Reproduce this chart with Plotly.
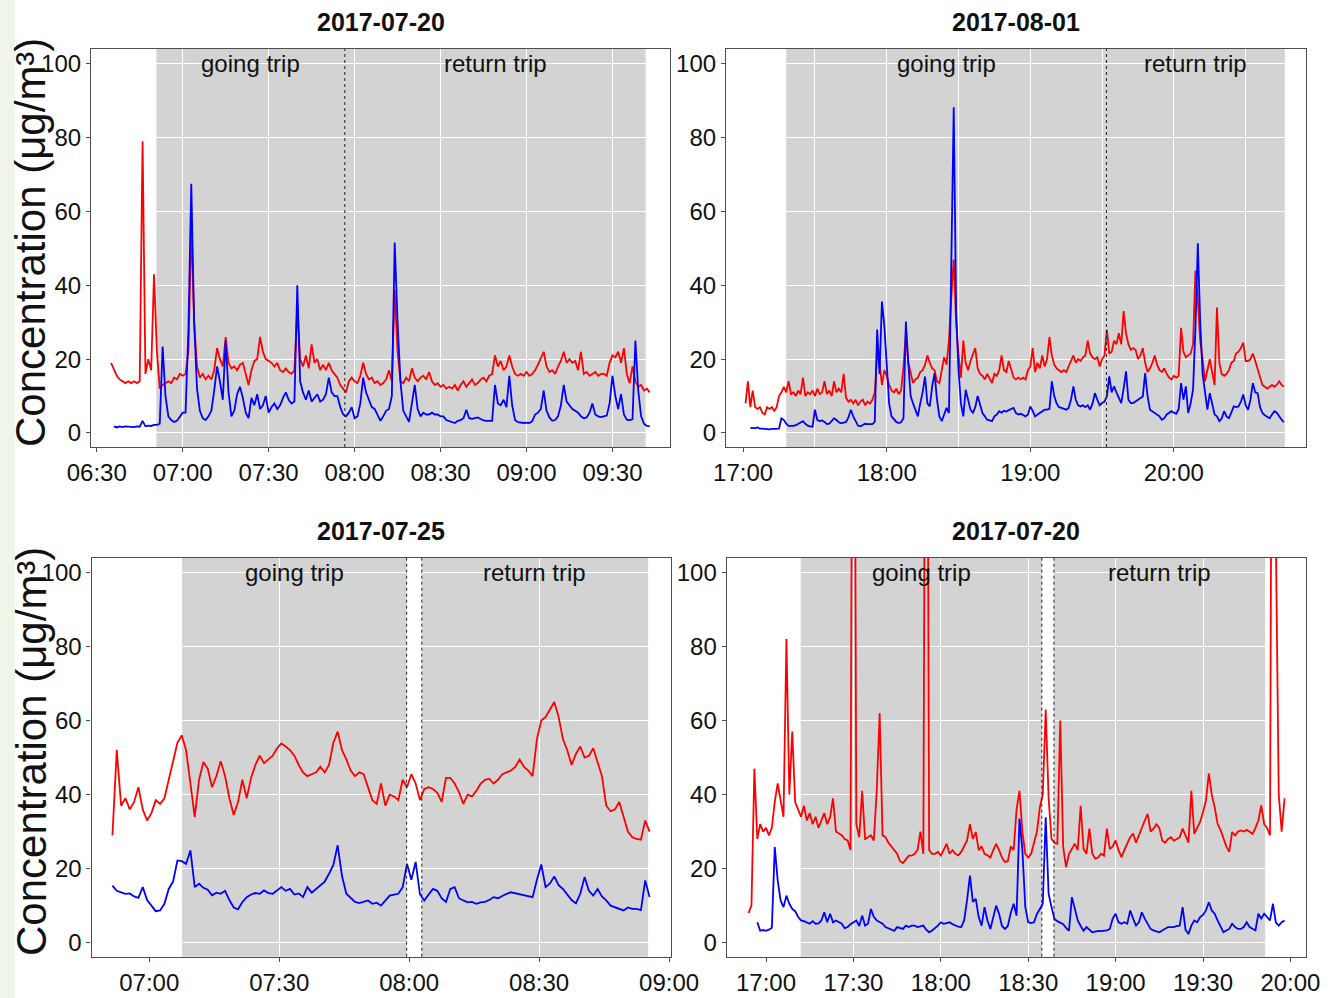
import pandas as pd
import plotly.graph_objects as go

# ---------------------------------------------------------------------------
# Concentration records, one reading per minute (µg/m³)
# ---------------------------------------------------------------------------

# 2017-07-20, morning run
am0720_red_start = "2017-07-20 06:35"
am0720_red = [
    19, 17, 15.5, 14.5, 14, 13.5, 14, 13.5, 14, 13.5,
    14, 79, 16, 20, 17, 43, 22, 12, 13, 13.5,
    14, 13.5, 15, 14.5, 16, 15.5, 16, 22, 56, 30,
    18, 15, 16, 14.5, 15.5, 14.5, 17, 23, 20, 18,
    26, 19, 17.5, 18, 17, 18.5, 19, 16, 13, 17,
    19.5, 20, 26, 22, 20, 19.5, 19, 18, 19, 17,
    16.5, 17.5, 16.5, 16, 17, 34, 20, 18, 21, 17.5,
    24, 19, 20, 17, 18.5, 17, 19, 17, 16, 15,
    13, 12, 11, 14, 15, 14, 13.5, 15.5, 19, 16,
    14.5, 15, 13.5, 14, 13, 13.5, 14.5, 17, 14, 38.7,
    22, 14, 13.5, 15, 14, 17.5, 15, 14, 15, 15.5,
    14.5, 16.5, 14, 13, 13.5, 12.5, 13, 12, 12.5, 12,
    13, 11.5, 13, 14, 12.5, 13.5, 14.5, 13, 13.5, 14.5,
    15, 14, 15.5, 16, 21, 18, 19.5, 17, 18, 21,
    18, 16, 15.5, 16, 15.5, 16.5, 15.5, 16, 17, 18.5,
    20.5, 22, 18, 16.5, 17, 16, 18, 19.5, 22, 19,
    20, 19, 19.5, 17, 22, 16, 16.5, 15.5, 16, 16.5,
    15.5, 16, 16, 15.5, 19, 21, 20.5, 22, 19, 23,
    16, 13.5, 18, 14, 12.5, 13, 11.5, 12, 11,
]
am0720_blue_start = "2017-07-20 06:36"
am0720_blue = [
    1.8, 1.5, 1.8, 1.6, 1.8, 1.7, 1.8, 1.6, 1.8, 1.7,
    3.3, 1.8, 2, 1.9, 2.2, 2.2, 2.5, 23.4, 10, 4.5,
    3.5, 3, 3.3, 4.5, 5.5, 5.5, 28, 67.5, 30, 12,
    6, 4, 3.5, 4.5, 6, 11.5, 18, 14, 9, 25,
    11, 4.5, 6, 10.5, 12.5, 9.5, 5.5, 4, 9.5, 7.5,
    10.5, 6.5, 7.5, 10, 5.5, 7, 8, 6.5, 7.5, 9.5,
    11, 9, 8, 8.5, 40, 14, 11, 9, 11.5, 8.5,
    9.5, 10.5, 8.5, 9, 10.5, 15, 11, 10, 10, 7,
    5, 4.5, 5.5, 7, 4, 4.5, 8, 15, 11, 9,
    7, 6.5, 5, 3.3, 4.5, 6, 6.5, 10, 51.6, 30,
    14, 6, 4.5, 3, 8, 13, 6.5, 4.5, 5.5, 5,
    5, 5.5, 5, 5, 4.5, 4.5, 3.5, 3.2, 2.8, 2.7,
    3.3, 3.5, 4, 6.3, 4, 3.8, 4, 4.2, 3.8, 3.4,
    3.3, 3.2, 3.3, 13, 8, 7.5, 9, 7, 15.5, 7.5,
    3.5, 2.9, 2.7, 2.7, 2.8, 2.7, 3.2, 5, 5.5, 6.5,
    11.5, 6, 4.2, 3.3, 3.5, 4.5, 7.5, 13, 8.5, 7.5,
    6.5, 6, 5.5, 4.5, 4, 4.2, 5.5, 8, 5, 4.5,
    4.3, 4.5, 4.7, 8, 15.5, 10, 6.5, 10.5, 5, 3.6,
    3.5, 3.7, 25, 11.5, 4.5, 2.5, 1.9, 1.8,
]

# 2017-08-01, evening run
pm0801_red_start = "2017-08-01 17:01"
pm0801_red = [
    8, 14, 7, 11.5, 7, 6.5, 7, 5.5, 5, 7,
    6.5, 7, 6, 7, 10, 11, 12.5, 11, 14, 10.5,
    11, 10, 11.5, 10.5, 15, 10, 11, 10.5, 11.5, 10,
    12, 10.5, 11, 14, 10.5, 11.5, 10, 14, 11, 12,
    11, 16, 9.5, 8.5, 9, 8, 9, 7.5, 8.5, 9,
    7.5, 8.5, 8, 9, 11, 21.5, 19, 13, 17, 15.5,
    13, 11.5, 11, 12, 10.5, 11.5, 18, 27, 19, 16,
    13.5, 14.5, 15, 16.5, 17, 18.5, 21, 19, 17.5, 17,
    14, 13.5, 17, 20.5, 18.5, 25, 37, 47, 30, 21,
    15, 25, 19, 17, 19.5, 21, 23, 17.5, 16, 15.5,
    14.5, 16, 14.5, 13.5, 16, 15.5, 17, 21, 17, 16.5,
    19.5, 17, 15, 14.5, 15, 14.5, 15, 14.5, 17, 18,
    23, 16.5, 19, 17.5, 21, 18, 20, 26, 21, 18.5,
    17.5, 17, 16.5, 17, 16.5, 18, 19.5, 21, 19, 20,
    19.5, 20.5, 21, 25, 21.5, 20.5, 20, 20.5, 18, 20,
    21, 28, 21.5, 22, 25, 24, 27, 24, 33, 27,
    24, 22.5, 23, 22.5, 20, 21, 23, 19, 16.5, 17.5,
    19, 21, 18.5, 17, 16.5, 17.5, 16, 15, 14.5, 15.5,
    15, 15.5, 28.5, 22, 20.5, 21, 21.5, 24, 44, 36,
    25, 20, 14, 17, 20, 16.5, 13, 34, 19, 16,
    15.5, 16, 17, 19, 19.5, 21.5, 22, 23, 24.5, 19.5,
    19.5, 20, 21.5, 19.5, 17.5, 15, 13, 12.5, 12, 12.5,
    13, 12.5, 13, 14, 13, 12.5,
]
pm0801_blue_start = "2017-08-01 17:03"
pm0801_blue = [
    1.4, 1.3, 1.3, 1.5, 1.2, 1.2, 1.1, 1.2, 1.0, 1.1,
    1.0, 1.1, 1.2, 4, 3.5, 2.5, 1.9, 1.8, 1.9, 2.1,
    2.4, 2.8, 3.2, 2.5, 2.0, 1.8, 1.7, 6.3, 3.5, 3.2,
    3.4, 3, 2.4, 2.5, 3.2, 4, 3.5, 2.9, 2.6, 2.7,
    3.0, 4.2, 6.3, 4.5, 3, 2, 1.8, 2.1, 2.5, 2.4,
    2.3, 2.4, 3, 28, 16, 35.6, 29, 17, 8, 4.5,
    3.6, 3.0, 2.7, 2.9, 4, 30.2, 19, 10, 8, 6,
    4.5, 8, 11, 15.3, 8, 7.2, 12.6, 16.2, 9, 4.5,
    3.2, 5, 6.8, 5.4, 45, 88.2, 33, 17, 8, 4.5,
    11.7, 9, 6.3, 5.5, 7, 10, 7.5, 5.4, 4.5, 3.6,
    3.4, 3.2, 4.5, 5, 5.9, 5.5, 6, 5.8, 6.2, 6.5,
    6.8, 5.4, 5, 5.2, 4.8, 4.5, 5, 7.2, 6, 4.5,
    5, 5.4, 5.8, 6.3, 6.3, 6.5, 14, 10, 8, 7,
    6.8, 6.5, 6.3, 6.8, 9, 12.6, 9, 7.5, 7.2, 7.5,
    7, 7.5, 6.3, 8, 10.8, 9, 7.5, 8.1, 8.5, 9.9,
    15.3, 11, 12.6, 11, 9.5, 8.1, 12, 16.7, 9, 8.1,
    8.1, 8.5, 9, 9.5, 9.9, 16.2, 10, 6.3, 5.8, 5.5,
    5, 4.5, 3.6, 4, 5, 5.5, 5.9, 5.5, 5.2, 6.5,
    13.5, 9, 12.6, 5.4, 8, 11.7, 28, 51.4, 30, 16,
    11, 6.3, 10.8, 7.5, 5, 4.5, 3.2, 4, 5.9, 4.5,
    4, 5.5, 7.2, 7, 7.2, 8.5, 10.4, 7.5, 6.3, 9,
    13.5, 11, 10.8, 7, 5.4, 4.8, 4.3, 4, 5, 5.9,
    5.5, 4.5, 3.6, 2.9,
]

# 2017-07-25, morning run
am0725_start = "2017-07-25 06:51:30"
am0725_red = [
    29, 52, 37, 39, 36, 38, 42, 36, 33, 35,
    38.5, 37.5, 39, 44, 49, 54, 56, 52, 43, 34,
    44, 48.8, 47, 42, 45, 49, 45, 39, 34.5, 38,
    44, 39, 44.5, 48, 50.5, 48.5, 49.5, 50.5, 52.5, 53.8,
    53, 52, 50.5, 48, 46, 45, 45.5, 46, 47.5, 46,
    48, 54, 57, 52, 49.5, 46.5, 45, 46, 45.5, 42,
    38.5, 37.5, 43, 37, 40, 39.5, 38.5, 44, 42, 45.5,
    43, 38.5, 41.5, 42, 41.5, 40.5, 38, 44.5, 44.5, 43,
    40.7, 37.5, 40, 39.5, 41, 43, 44, 44.3, 43, 44,
    45.5, 46, 46.5, 47.5, 49.5, 47.5, 46.5, 45, 55, 60,
    61, 63, 65, 61, 55, 52, 48, 51, 53, 50,
    50.5, 52.5, 49, 45, 37, 35.5, 36, 38, 34, 30,
    28.5, 28, 27.8, 33, 30,
]
am0725_blue = [
    15.4, 14, 13.6, 13.2, 13.3, 12.5, 12.1, 15, 11.5, 10,
    8.5, 8.7, 10.5, 14.5, 16.5, 22.2, 22, 21.3, 24.9, 15,
    15.9, 14.8, 14.3, 12.8, 13.5, 13.2, 14, 11.5, 9.5, 9,
    11, 12.3, 13, 13.4, 13.2, 14.1, 13.4, 13.2, 14, 15,
    14, 14.5, 13, 13.3, 12.3, 15, 13.5, 14.5, 15.5, 16.5,
    18.6, 21, 26.3, 18, 13.2, 12, 11, 10.7, 11, 11.4,
    10.5, 10.8, 10, 11.5, 12.7, 13, 13.2, 15, 21.3, 17,
    21.8, 13, 11.4, 13, 14.5, 14, 12, 11, 14.5, 15,
    12, 11.4, 10.9, 11, 10.5, 10.9, 11, 11.5, 12.3, 12,
    12.7, 13.2, 13.6, 13.3, 13, 12.8, 12.5, 12.3, 17, 21.1,
    15, 16, 17.9, 15.5, 14.5, 13, 11.5, 10.6, 13.2, 17.7,
    14, 12.7, 14.5, 12.5, 11.4, 10, 9.6, 9.1, 8.7, 9.5,
    9.1, 9.1, 8.8, 16.8, 12.3,
]

# 2017-07-20, evening run
pm0720_red_start = "2017-07-20 16:54"
pm0720_red = [
    8, 10, 47, 28, 32, 30, 31, 29, 31, 38,
    43, 39, 34, 82, 40, 57, 38, 36, 34, 37,
    33, 35, 32, 34, 31, 33, 35, 32, 33.9, 39,
    30, 29.5, 29, 28, 27.6, 25, 250, 32, 28.5, 41,
    28, 28.5, 29, 27.6, 41, 62, 29, 28.5, 27, 26,
    25, 24, 22, 21.5, 22.5, 23.5, 23.5, 24, 25, 30,
    24, 250, 25, 24, 24, 24.5, 23.5, 25, 26.7, 24,
    25, 24, 23.6, 24.5, 26, 27.6, 32, 28, 29.9, 25,
    26, 24, 23.6, 23, 25, 26.7, 25, 23, 21.8, 22,
    26, 25, 36, 41, 30, 24, 23, 24, 27, 30,
    36.6, 40, 63, 39, 28, 27, 26.7, 60, 25.8, 20.4,
    24, 25.4, 26.7, 25, 37, 25.3, 24, 30.8, 24, 22.7,
    23, 24, 23.5, 30.8, 25.3, 26, 27.6, 25, 23.1, 25,
    26.7, 28.5, 29.5, 27, 29, 31.2, 33, 34.8, 30, 30.8,
    32, 31, 27.6, 27, 28, 28.5, 27.5, 28, 28.5, 30.8,
    29, 27, 41, 29.4, 31, 32.6, 35.3, 38.4, 45.7, 40,
    36.6, 32.1, 30.5, 28.1, 26, 24.5, 29.9, 29, 30, 30.3,
    30, 30.5, 30, 29.4, 31, 33, 37.1, 32, 31, 29,
    250, 110, 40, 30, 39,
]
pm0720_blue_start = "2017-07-20 16:57"
pm0720_blue = [
    5.5, 3.2, 3.4, 3.2, 3.5, 4, 25.8, 16.8, 11.4, 9.6,
    12.7, 10.5, 9.1, 8.5, 7, 6, 5.8, 5.5, 5.1, 5.8,
    5.1, 5.2, 6, 8.2, 5.5, 7.8, 5.5, 6, 5.5, 5.1,
    3.9, 4.2, 5, 5.5, 6, 4.5, 7.3, 4.6, 5.1, 9.1,
    7, 6, 5.5, 5.1, 4.2, 3.9, 3.7, 3.2, 4.2, 3.9,
    3.7, 4.6, 4.2, 4.6, 4.6, 4.2, 4.4, 4.6, 3.5, 2.8,
    3.3, 3.9, 4.6, 5.5, 5.1, 5.3, 5.5, 5, 4.6, 4.3,
    4.2, 6, 11.4, 18.1, 11, 11.8, 6.9, 4.6, 9.6, 6,
    3.7, 6.5, 10, 7.8, 4.5, 3.7, 4.5, 8, 10.5, 7.3,
    33.5, 25, 9.6, 5.5, 5.3, 5.5, 7.8, 9.1, 10.5, 33.9,
    13.2, 9.6, 6.4, 5.8, 5.5, 5, 4, 3.2, 12.3, 8.7,
    6, 4.5, 3.2, 4.2, 3.5, 2.8, 3, 3.2, 3.1, 3.2,
    3.3, 3.7, 6.5, 7.8, 5.5, 5.1, 5.5, 5.1, 8.7, 6.5,
    4.6, 5.5, 8.2, 6.5, 5, 3.7, 3.3, 3.1, 2.8, 3.3,
    3.7, 4.2, 4.2, 4.2, 4.5, 4.6, 9.6, 3.5, 2.3, 4.6,
    6, 5.5, 6.9, 7.5, 8.7, 10.9, 8.7, 7.8, 6, 4.2,
    2.8, 3.3, 3.7, 5.1, 4.2, 3.7, 3.7, 4.2, 5.5, 4.2,
    3.7, 3.3, 7.8, 6.5, 7.8, 6.9, 6, 10.5, 5.5, 4.6,
    5.5, 6,
]

# Trip periods (going, return) and visible time window of each panel
am0720_trips = [("2017-07-20 06:50:50", "2017-07-20 07:56:35"),
                ("2017-07-20 07:56:35", "2017-07-20 09:41:35")]
pm0801_trips = [("2017-08-01 17:18:00", "2017-08-01 19:31:50"),
                ("2017-08-01 19:31:50", "2017-08-01 20:46:20")]
am0725_trips = [("2017-07-25 07:07:35", "2017-07-25 07:59:25"),
                ("2017-07-25 08:02:55", "2017-07-25 08:55:10")]
pm0720_trips = [("2017-07-20 17:11:55", "2017-07-20 18:34:40"),
                ("2017-07-20 18:38:50", "2017-07-20 19:51:20")]

am0720_window = ["2017-07-20 06:28:00", "2017-07-20 09:50:05"]
pm0801_window = ["2017-08-01 16:52:50", "2017-08-01 20:55:00"]
am0725_window = ["2017-07-25 06:46:40", "2017-07-25 09:00:20"]
pm0720_window = ["2017-07-20 16:46:30", "2017-07-20 20:05:15"]

panel_titles = ["2017-07-20", "2017-08-01", "2017-07-25", "2017-07-20"]
trip_labels = ["going trip", "return trip"]
y_title = "Concentration (μg/m³)"
y_ticks = [0, 20, 40, 60, 80, 100]

# ---------------------------------------------------------------------------
W, H = 1339, 998
FONT = "Liberation Sans, Arial, sans-serif"
RED, BLUE = "#FF0000", "#0000FF"
SHADE = "#D3D3D3"
FRAME = "#4d4d4d"
INK = "#111111"
MIN = 60 * 1000


def minute_index(start, n):
    return pd.date_range(start, periods=n, freq="min")


panels = [
    dict(red=(am0720_red_start, am0720_red), blue=(am0720_blue_start, am0720_blue),
         trips=am0720_trips, window=am0720_window, dtick=30 * MIN, tick0="2017-07-20 06:30",
         minor=False, px_x=(91, 670), px_y=(49, 447), title=panel_titles[0]),
    dict(red=(pm0801_red_start, pm0801_red), blue=(pm0801_blue_start, pm0801_blue),
         trips=pm0801_trips, window=pm0801_window, dtick=60 * MIN, tick0="2017-08-01 17:00",
         minor=True, px_x=(726, 1305.5), px_y=(49, 447), title=panel_titles[1]),
    dict(red=(am0725_start, am0725_red), blue=(am0725_start, am0725_blue),
         trips=am0725_trips, window=am0725_window, dtick=30 * MIN, tick0="2017-07-25 07:00",
         minor=False, px_x=(91.5, 670.5), px_y=(557.7, 956.7), title=panel_titles[2]),
    dict(red=(pm0720_red_start, pm0720_red), blue=(pm0720_blue_start, pm0720_blue),
         trips=pm0720_trips, window=pm0720_window, dtick=30 * MIN, tick0="2017-07-20 17:00",
         minor=False, px_x=(726.7, 1305.7), px_y=(557.7, 956.7), title=panel_titles[3]),
]

fig = go.Figure()
shapes, annotations = [], []

# pale strip along the left edge of the page
shapes.append(dict(type="rect", xref="paper", yref="paper", x0=0, x1=15 / W, y0=0, y1=1,
                   fillcolor="#F0F5EA", line=dict(width=0), layer="below"))

for i, p in enumerate(panels, start=1):
    xa = "x" if i == 1 else f"x{i}"
    ya = "y" if i == 1 else f"y{i}"
    xdom = [p["px_x"][0] / W, p["px_x"][1] / W]
    ydom = [1 - p["px_y"][1] / H, 1 - p["px_y"][0] / H]

    for (start, vals), colour in ((p["red"], RED), (p["blue"], BLUE)):
        fig.add_trace(go.Scatter(x=minute_index(start, len(vals)), y=vals, mode="lines",
                                 line=dict(color=colour, width=1.8), xaxis=xa, yaxis=ya,
                                 showlegend=False, hoverinfo="skip"))

    # shaded trip periods, dotted separators, trip labels
    marks = set()
    for (t0, t1), label in zip(p["trips"], trip_labels):
        shapes.append(dict(type="rect", xref=xa, yref=f"{ya} domain", x0=t0, x1=t1, y0=0, y1=1,
                           fillcolor=SHADE, line=dict(width=0), layer="below"))
        mid = pd.Timestamp(t0) + (pd.Timestamp(t1) - pd.Timestamp(t0)) / 2
        annotations.append(dict(xref=xa, yref=ya, x=mid, y=100, text=label, showarrow=False,
                                xanchor="center", yanchor="middle",
                                font=dict(family=FONT, size=24, color=INK)))
    marks.add(p["trips"][0][1])
    marks.add(p["trips"][1][0])
    for m in sorted(marks):
        shapes.append(dict(type="line", xref=xa, yref=f"{ya} domain", x0=m, x1=m, y0=0, y1=1,
                           line=dict(color="#222", width=1, dash="dot"), layer="above"))

    axis_common = dict(showgrid=True, gridcolor="white", gridwidth=1.2, zeroline=False,
                       showline=True, mirror=True, linecolor=FRAME, linewidth=1.2,
                       ticks="outside", ticklen=4, tickcolor=FRAME, automargin=False,
                       tickfont=dict(family=FONT, size=24, color=INK))
    xcfg = dict(domain=xdom, anchor=ya, type="date", range=p["window"], tickformat="%H:%M",
                dtick=p["dtick"], tick0=p["tick0"], **axis_common)
    if p["minor"]:
        xcfg["minor"] = dict(dtick=30 * MIN, showgrid=True, gridcolor="white", gridwidth=1.2)
    ycfg = dict(domain=ydom, anchor=xa, range=[-3.8, 104], tickvals=y_ticks, **axis_common)
    fig.update_layout(**{("xaxis" if i == 1 else f"xaxis{i}"): xcfg,
                         ("yaxis" if i == 1 else f"yaxis{i}"): ycfg})

    # panel title
    annotations.append(dict(xref="paper", yref="paper", x=sum(xdom) / 2,
                            y=1 - (p["px_y"][0] - 27) / H, text=f"<b>{p['title']}</b>",
                            showarrow=False, xanchor="center", yanchor="middle",
                            font=dict(family=FONT, size=25, color=INK)))

# y-axis titles, one per row
for yc in (243, 752):
    annotations.append(dict(xref="paper", yref="paper", x=31 / W, y=1 - yc / H, text=y_title,
                            textangle=-90, showarrow=False, xanchor="center", yanchor="middle",
                            font=dict(family=FONT, size=42, color=INK)))

fig.update_layout(width=W, height=H, margin=dict(l=0, r=0, t=0, b=0),
                  paper_bgcolor="white", plot_bgcolor="white",
                  shapes=shapes, annotations=annotations, showlegend=False)

fig.write_html("out.html")
